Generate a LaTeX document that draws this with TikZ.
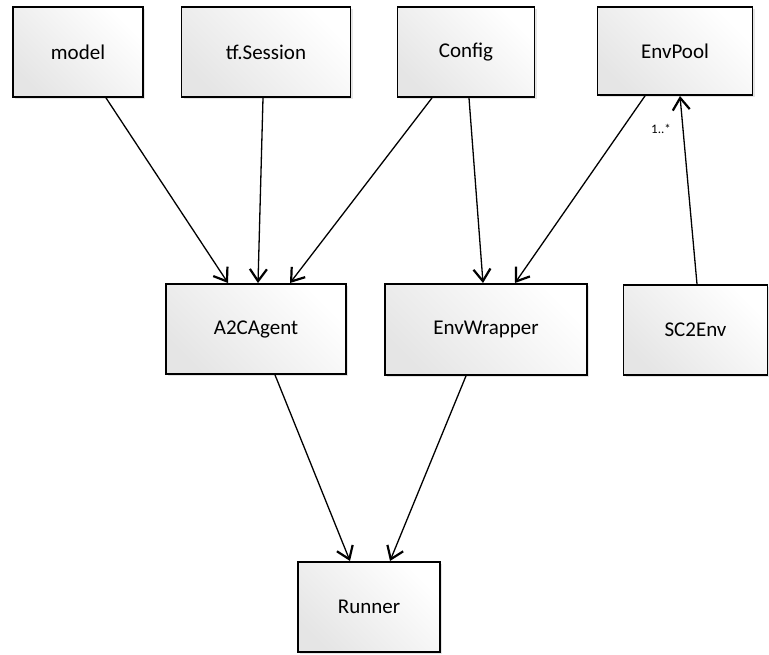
\documentclass[tikz,border=0pt]{standalone}
\usepackage{fontspec}
\setmainfont{Carlito}
\usetikzlibrary{arrows.meta,shadows}
\begin{document}
\begin{tikzpicture}[x=1pt,y=-1pt,
  cls/.style={draw=black,line width=1.8pt,left color=black!10,right color=white,shading angle=135,
    drop shadow={shadow xshift=2pt,shadow yshift=-2pt,fill=black!20,opacity=0.5},
    font=\fontsize{21}{24}\selectfont},
  dep/.style={draw=black,line width=1.3pt,-{Straight Barb[length=12pt,width=17pt,line width=2.2pt]}},
  mult/.style={font=\fontsize{13}{14}\selectfont}]
\useasboundingbox (0,0) rectangle (769,654);
\node[cls,minimum width=130pt,minimum height=90pt] (model) at (78,52) {model};
\node[cls,minimum width=169pt,minimum height=90pt] (sess) at (266,52) {tf.Session};
\node[cls,minimum width=137pt,minimum height=90pt] (config) at (466,52) {Config};
\node[cls,minimum width=155pt,minimum height=88pt] (pool) at (675,51) {EnvPool};
\node[cls,minimum width=180pt,minimum height=90pt] (agent) at (256,329) {A2CAgent};
\node[cls,minimum width=202pt,minimum height=91pt] (wrap) at (486,329.5) {EnvWrapper};
\node[cls,minimum width=144pt,minimum height=90pt] (sc2) at (695.5,330) {SC2Env};
\node[cls,minimum width=142pt,minimum height=90pt] (runner) at (369,607) {Runner};
\draw[dep] (model.south -| 106,0) -- (228,283);
\draw[dep] (sess.south -| 263,0) -- (258,283);
\draw[dep] (config.south -| 432,0) -- (290,283);
\draw[dep] (config.south -| 469,0) -- (483,283);
\draw[dep] (pool.south -| 645,0) -- (515,283);
\draw[dep] (sc2.north -| 697,0) -- (680,96);
\node[mult] (m1) at (661,129) {1..*};
\draw[dep] (agent.south -| 275,0) -- (350,561);
\draw[dep] (wrap.south -| 466,0) -- (390,561);
\end{tikzpicture}
\end{document}
